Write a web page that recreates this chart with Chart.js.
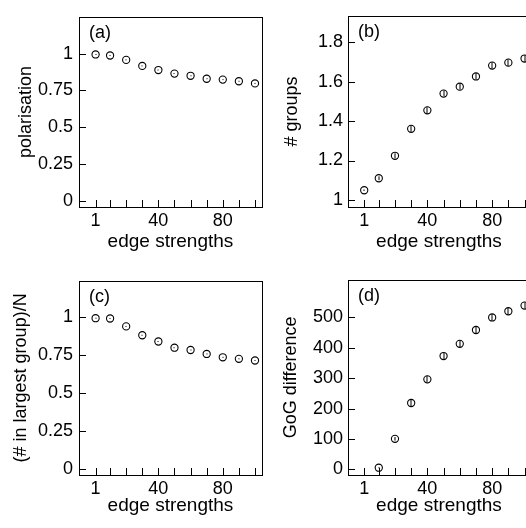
<!DOCTYPE html>
<html>
<head>
<meta charset="utf-8">
<script src="https://cdn.jsdelivr.net/npm/chart.js@4.4.1/dist/chart.umd.min.js"></script>
<style>
  body { margin: 0; background: #fff; }
  #grid { position: relative; width: 526px; height: 528px; }
  .panel { position: absolute; width: 263px; height: 264px; overflow: hidden; }
  .panel canvas { position: absolute; left: 0; top: 0; }
</style>
</head>
<body>
<div id="grid">
  <div class="panel" style="left:0;top:0"><canvas id="chartA" width="267" height="264"></canvas></div>
  <div class="panel" style="left:263px;top:0"><canvas id="chartB" width="272" height="264"></canvas></div>
  <div class="panel" style="left:0;top:264px"><canvas id="chartC" width="267" height="264"></canvas></div>
  <div class="panel" style="left:263px;top:264px"><canvas id="chartD" width="272" height="264"></canvas></div>
</div>
<script>
// edge strengths used in the runs
const edgeStrengths = [1, 10, 20, 30, 40, 50, 60, 70, 80, 90, 100];
const xTickValues = [1, 10, 20, 30, 40, 50, 60, 70, 80, 90, 100];
const xLabelled = [1, 40, 80];

// (a) polarisation
const polarisation = [0.994, 0.987, 0.957, 0.916, 0.888, 0.864, 0.849, 0.829, 0.823, 0.812, 0.797];
const polarisationErr = [0.003, 0.003, 0.003, 0.003, 0.003, 0.003, 0.003, 0.003, 0.003, 0.003, 0.003];
const polarisationTicks = [0, 0.25, 0.5, 0.75, 1];

// (b) number of groups
const numGroups = [1.049, 1.11, 1.224, 1.361, 1.455, 1.54, 1.575, 1.627, 1.682, 1.697, 1.718];
const numGroupsErr = [0.004, 0.01, 0.013, 0.016, 0.016, 0.015, 0.015, 0.016, 0.017, 0.017, 0.017];
const numGroupsTicks = [1, 1.2, 1.4, 1.6, 1.8];

// (c) fraction of agents in the largest group
const largestFrac = [0.994, 0.992, 0.94, 0.882, 0.841, 0.8, 0.785, 0.759, 0.737, 0.727, 0.716];
const largestFracErr = [0.003, 0.003, 0.003, 0.003, 0.003, 0.003, 0.003, 0.003, 0.003, 0.003, 0.003];
const largestFracTicks = [0, 0.25, 0.5, 0.75, 1];

// (d) GoG difference
const gogDiff = [null, 5.5, 100.6, 218.5, 296.4, 373, 413.3, 458.8, 500, 520.5, 539];
const gogDiffErr = [0, 2, 6, 11, 11, 10, 11, 11, 11, 11, 11];
const gogDiffTicks = [0, 100, 200, 300, 400, 500];

const FONT = { family: "'Liberation Sans', Arial, sans-serif", size: 18 };
const XTITLE_FONT = { family: "'Liberation Sans', Arial, sans-serif", size: 19 };

// frame, inward tick marks, error bars and the panel letter
const panelDecor = {
  id: 'panelDecor',
  afterDraw(chart, args, opts) {
    const ctx = chart.ctx;
    const area = chart.chartArea;
    const xs = chart.scales.x, ys = chart.scales.y;
    ctx.save();
    ctx.fillStyle = '#000';
    opts.values.forEach((v, i) => {
      if (v === null) return;
      const px = xs.getPixelForValue(edgeStrengths[i]);
      const y1 = ys.getPixelForValue(v + opts.errors[i]);
      const y2 = ys.getPixelForValue(v - opts.errors[i]);
      const h = Math.max(1, y2 - y1);
      ctx.fillRect(Math.round(px) - 0.5, (y1 + y2) / 2 - h / 2, 1, h);
    });
    const left = Math.round(area.left), top = Math.round(area.top);
    const right = Math.round(area.right), bottom = Math.round(area.bottom);
    // box lines and tick marks as filled 1px rects
    ctx.fillRect(left, top, right - left, 1);
    ctx.fillRect(left, bottom, right - left, 1);
    ctx.fillRect(left, top, 1, bottom - top + 1);
    ctx.fillRect(right, top, 1, bottom - top + 1);
    opts.yTicks.forEach(v => {
      const py = Math.round(ys.getPixelForValue(v));
      ctx.fillRect(left, py, 7, 1);
    });
    xTickValues.forEach(v => {
      const px = Math.round(xs.getPixelForValue(v));
      ctx.fillRect(px, bottom - 7, 1, 7);
    });
    ctx.font = FONT.size + 'px ' + FONT.family;
    ctx.textBaseline = 'top';
    ctx.textAlign = 'left';
    ctx.fillText(opts.letter, area.left + 10, area.top + 7);
    ctx.restore();
  }
};

function makePanel(id, p) {
  const canvas = document.getElementById(id);
  const H = canvas.height;
  return new Chart(canvas, {
    type: 'scatter',
    data: {
      datasets: [{
        data: edgeStrengths.map((x, i) => ({ x: x, y: p.values[i] })),
        pointStyle: 'circle',
        pointRadius: 3.6,
        borderWidth: 1.1,
        borderColor: '#000',
        backgroundColor: 'rgba(0,0,0,0)'
      }]
    },
    options: {
      responsive: false,
      animation: false,
      events: [],
      layout: { padding: { top: p.top, left: 0, right: 0, bottom: 0 } },
      plugins: {
        legend: { display: false },
        tooltip: { enabled: false },
        panelDecor: { values: p.values, errors: p.errors, yTicks: p.yTicks, letter: p.letter }
      },
      scales: {
        x: {
          type: 'linear',
          position: 'bottom',
          min: p.xMin,
          max: p.xMax,
          afterBuildTicks: s => { s.ticks = xTickValues.map(v => ({ value: v })); },
          afterFit: s => { s.height = H - p.bottom; },
          grid: { display: false, drawTicks: false },
          border: { display: false },
          ticks: {
            color: '#000', font: FONT, padding: p.xPad, maxRotation: 0, autoSkip: false,
            callback: v => xLabelled.includes(v) ? String(v) : ''
          },
          title: { display: true, text: 'edge strengths', color: '#000', font: XTITLE_FONT, padding: { top: 0, bottom: 11 } }
        },
        y: {
          type: 'linear',
          min: p.yMin,
          max: p.yMax,
          afterBuildTicks: s => { s.ticks = p.yTicks.map(v => ({ value: v })); },
          afterFit: s => { s.width = p.left; },
          grid: { display: false, drawTicks: false },
          border: { display: false },
          ticks: { color: '#000', font: FONT, padding: p.yPad, callback: v => String(v) },
          title: { display: true, text: p.yTitle, color: '#000', font: FONT, padding: { top: p.titlePad, bottom: 0 } }
        }
      }
    },
    plugins: [panelDecor]
  });
}

makePanel('chartA', {
  values: polarisation, errors: polarisationErr, yTicks: polarisationTicks,
  yMin: -0.043, yMax: 1.25, xMin: -9.3, xMax: 104.3, yTitle: 'polarisation', letter: '(a)',
  left: 79, top: 7, bottom: 207, xPad: 3, yPad: 6, titlePad: 15
});
makePanel('chartB', {
  values: numGroups, errors: numGroupsErr, yTicks: numGroupsTicks,
  yMin: 0.964, yMax: 1.935, xMin: -9.0, xMax: 103.3, yTitle: '# groups', letter: '(b)',
  left: 85, top: 7, bottom: 207, xPad: 3, yPad: 5, titlePad: 18
});
makePanel('chartC', {
  values: largestFrac, errors: largestFracErr, yTicks: largestFracTicks,
  yMin: -0.037, yMax: 1.24, xMin: -9.3, xMax: 104.3, yTitle: '(# in largest group)/N', letter: '(c)',
  left: 79, top: 13, bottom: 211, xPad: 3, yPad: 6, titlePad: 10
});
makePanel('chartD', {
  values: gogDiff, errors: gogDiffErr, yTicks: gogDiffTicks,
  yMin: -18.5, yMax: 624, xMin: -9.0, xMax: 103.3, yTitle: 'GoG difference', letter: '(d)',
  left: 85, top: 13, bottom: 211, xPad: 3, yPad: 5, titlePad: 17
});
</script>
</body>
</html>
